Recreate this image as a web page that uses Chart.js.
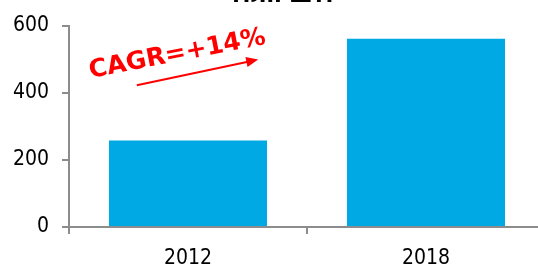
<!DOCTYPE html>
<html lang="ru">
<head>
  <meta charset="UTF-8">
  <title>млн шт.</title>
  <script src="https://cdn.jsdelivr.net/npm/chart.js"></script>
  <style>
    html, body { margin: 0; padding: 0; background: #fff; overflow: hidden; }
    .chart-box { position: relative; width: 550px; height: 264px; }
  </style>
</head>
<body>
<div class="chart-box">
  <canvas id="salesChart"></canvas>
</div>

<script>
  // chart data
  const years = ["2012", "2018"];
  const volumes = [258, 561];
  const yTicks = [0, 200, 400, 600];
  const titleText = "млн шт.";
  const cagrText = "CAGR=+14%";

  const axisGrey = "#8c8c8c";
  const barBlue = "#00a9e4";

  // title (cut off at the top in the original) + CAGR label with arrow
  const extras = {
    id: "extras",
    afterDraw(chart) {
      const c = chart.ctx;
      const x = chart.scales.x, y = chart.scales.y;
      const step = x.getPixelForValue(1) - x.getPixelForValue(0);
      const px = i => x.getPixelForValue(0) + i * step;

      c.save();
      c.fillStyle = "#000";
      c.font = "bold 22px 'DejaVu Sans'";
      c.textAlign = "center";
      c.textBaseline = "alphabetic";
      c.fillText(titleText, 283, 2);

      // label
      c.translate(px(-0.045), y.getPixelForValue(514));
      c.rotate(-11 * Math.PI / 180);
      c.fillStyle = "#ff0000";
      c.font = "bold 25px 'DejaVu Sans'";
      c.textBaseline = "middle";
      c.fillText(cagrText, 0, 0);
      c.restore();

      // arrow
      const x1 = px(-0.215), y1 = y.getPixelForValue(422);
      const x2 = px(0.295), y2 = y.getPixelForValue(499);
      const a = Math.atan2(y2 - y1, x2 - x1);
      c.save();
      c.strokeStyle = "#ff0000";
      c.fillStyle = "#ff0000";
      c.lineWidth = 2;
      c.beginPath();
      c.moveTo(x1, y1);
      c.lineTo(x2 - 8 * Math.cos(a), y2 - 8 * Math.sin(a));
      c.stroke();
      c.translate(x2, y2);
      c.rotate(a);
      c.beginPath();
      c.moveTo(0, 0);
      c.lineTo(-12, -5);
      c.lineTo(-12, 5);
      c.closePath();
      c.fill();
      c.restore();
    }
  };

  document.addEventListener("DOMContentLoaded", function () {
    const ctx = document.getElementById("salesChart").getContext("2d");
    new Chart(ctx, {
      type: "bar",
      data: {
        labels: years,
        datasets: [{
          data: volumes,
          backgroundColor: barBlue,
          borderWidth: 0,
          categoryPercentage: 1.0,
          barPercentage: 0.664
        }]
      },
      options: {
        responsive: true,
        maintainAspectRatio: false,
        animation: false,
        layout: { padding: { top: 25, right: 5, left: 0, bottom: 0 } },
        plugins: {
          legend: { display: false },
          tooltip: { enabled: false }
        },
        scales: {
          x: {
            grid: {
              offset: true,
              drawOnChartArea: false,
              drawTicks: true,
              tickLength: 7,
              color: axisGrey,
              lineWidth: 2
            },
            border: { color: axisGrey, width: 2 },
            ticks: {
              color: "#000",
              padding: 12,
              font: { family: "'DejaVu Sans Condensed'", size: 21 }
            },
            afterFit(scale) { scale.height = 37; }
          },
          y: {
            min: 0,
            max: 600,
            afterBuildTicks(scale) { scale.ticks = yTicks.map(v => ({ value: v })); },
            grid: {
              drawOnChartArea: false,
              drawTicks: true,
              tickLength: 7,
              color: axisGrey,
              lineWidth: 2
            },
            border: { color: axisGrey, width: 2 },
            ticks: {
              color: "#000",
              padding: 13,
              font: { family: "'DejaVu Sans Condensed'", size: 21 }
            },
            afterFit(scale) { scale.width = 69; }
          }
        }
      },
      plugins: [extras]
    });
  });
</script>
</body>
</html>
